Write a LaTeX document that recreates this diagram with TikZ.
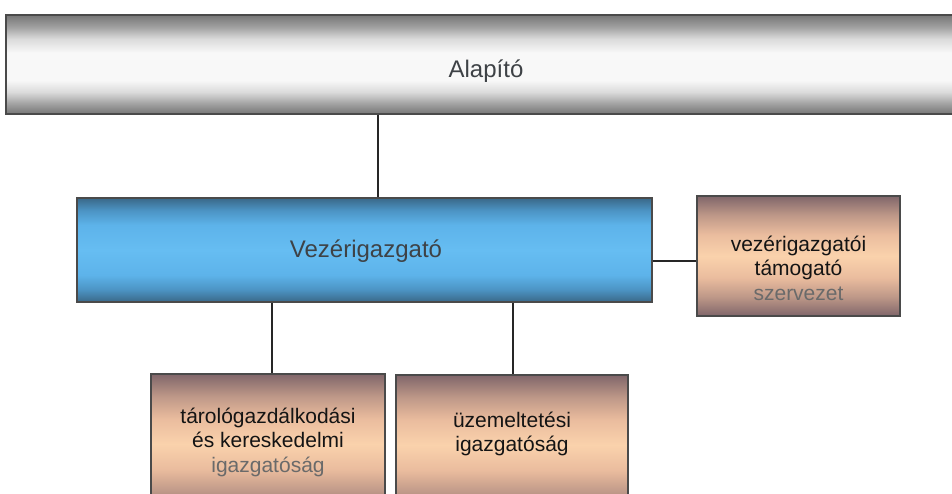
\documentclass[tikz,border=0pt]{standalone}
\usepackage{fontspec}
\setmainfont{Liberation Sans}

% colour stops of the three box finishes
\definecolor{mgA}{HTML}{767676}
\definecolor{mgB}{HTML}{A0A0A0}
\definecolor{mgC}{HTML}{DADADA}
\definecolor{mgD}{HTML}{F8F8F8}
\definecolor{bluA}{HTML}{3A6888}
\definecolor{bluB}{HTML}{4C94C4}
\definecolor{bluC}{HTML}{5DB3EA}
\definecolor{bluD}{HTML}{66BDF2}
\definecolor{pchA}{HTML}{80666A}
\definecolor{pchB}{HTML}{BE9888}
\definecolor{pchC}{HTML}{EABC9E}
\definecolor{pchD}{HTML}{FAD2AC}
\definecolor{edge}{HTML}{4A4A4A}
\definecolor{headtext}{HTML}{3E4246}
\definecolor{fadedtext}{HTML}{6A6A6A}

% vertical finishes; the 25bp..75bp band is fitted to the box
\pgfdeclareverticalshading{metalgray}{100bp}{%
  color(0bp)=(mgA); color(25bp)=(mgA); color(30bp)=(mgB); color(36bp)=(mgC);
  color(42bp)=(mgD); color(56bp)=(mgD); color(63bp)=(mgC); color(69bp)=(mgB);
  color(75bp)=(mgA); color(100bp)=(mgA)}
\pgfdeclareverticalshading{metalblue}{100bp}{%
  color(0bp)=(bluA); color(25bp)=(bluA); color(31bp)=(bluB); color(38bp)=(bluC);
  color(50bp)=(bluD); color(62bp)=(bluC); color(69bp)=(bluB);
  color(75bp)=(bluA); color(100bp)=(bluA)}
\pgfdeclareverticalshading{metalpeach}{100bp}{%
  color(0bp)=(pchA); color(25bp)=(pchA); color(33bp)=(pchB); color(41bp)=(pchC);
  color(50bp)=(pchD); color(59bp)=(pchC); color(67bp)=(pchB);
  color(75bp)=(pchA); color(100bp)=(pchA)}

\tikzset{
  orgbox/.style={draw=edge, line width=1.1pt, rectangle, inner sep=0pt},
  graybox/.style={orgbox, shading=metalgray},
  bluebox/.style={orgbox, shading=metalblue},
  peachbox/.style={orgbox, shading=metalpeach},
  headlabel/.style={font=\fontsize{24}{28}\selectfont, text=headtext},
  unitlabel/.style={font=\fontsize{21}{24.5}\selectfont, text=black!92, align=center},
  link/.style={draw=black!85, line width=1.4pt}
}

\begin{document}
\begin{tikzpicture}[x=1pt, y=-1pt]
  \useasboundingbox (0,0) rectangle (952,493);
  \fill[white] (0,0) rectangle (952,493);
  \clip (0,0) rectangle (952,493);

  % boxes
  \node[graybox, minimum width=960pt, minimum height=99pt] (alap) at (486,64.5) {};
  \node[bluebox, minimum width=575pt, minimum height=104pt] (vez) at (364.5,250) {};
  \node[peachbox, minimum width=203pt, minimum height=120pt] (sup) at (798.5,256) {};
  \node[peachbox, minimum width=234pt, minimum height=140pt] (tar) at (268,444) {};
  \node[peachbox, minimum width=232pt, minimum height=140pt] (uze) at (512,445) {};

  % labels
  \node[headlabel] (alapt) at (486,71) {Alapító};
  \node[headlabel] (vezt) at (366,251) {Vezérigazgató};
  \node[unitlabel] (supt) at (798.5,268) {vezérigazgatói\\támogató\\\textcolor{fadedtext}{szervezet}};
  \node[unitlabel] (tart) at (268,442) {tárológazdálkodási\\és kereskedelmi\\\textcolor{fadedtext}{igazgatóság}};
  \node[unitlabel] (uzet) at (512,434) {üzemeltetési\\igazgatóság};

  % connector positions
  \coordinate (xa) at (378,0);
  \coordinate (ys) at (0,261);
  \coordinate (xt) at (272,0);
  \coordinate (xu) at (513,0);

  \draw[link] (alap.south -| xa) -- (vez.north -| xa);
  \draw[link] (vez.east |- ys) -- (sup.west |- ys);
  \draw[link] (vez.south -| xt) -- (tar.north -| xt);
  \draw[link] (vez.south -| xu) -- (uze.north -| xu);
\end{tikzpicture}
\end{document}
